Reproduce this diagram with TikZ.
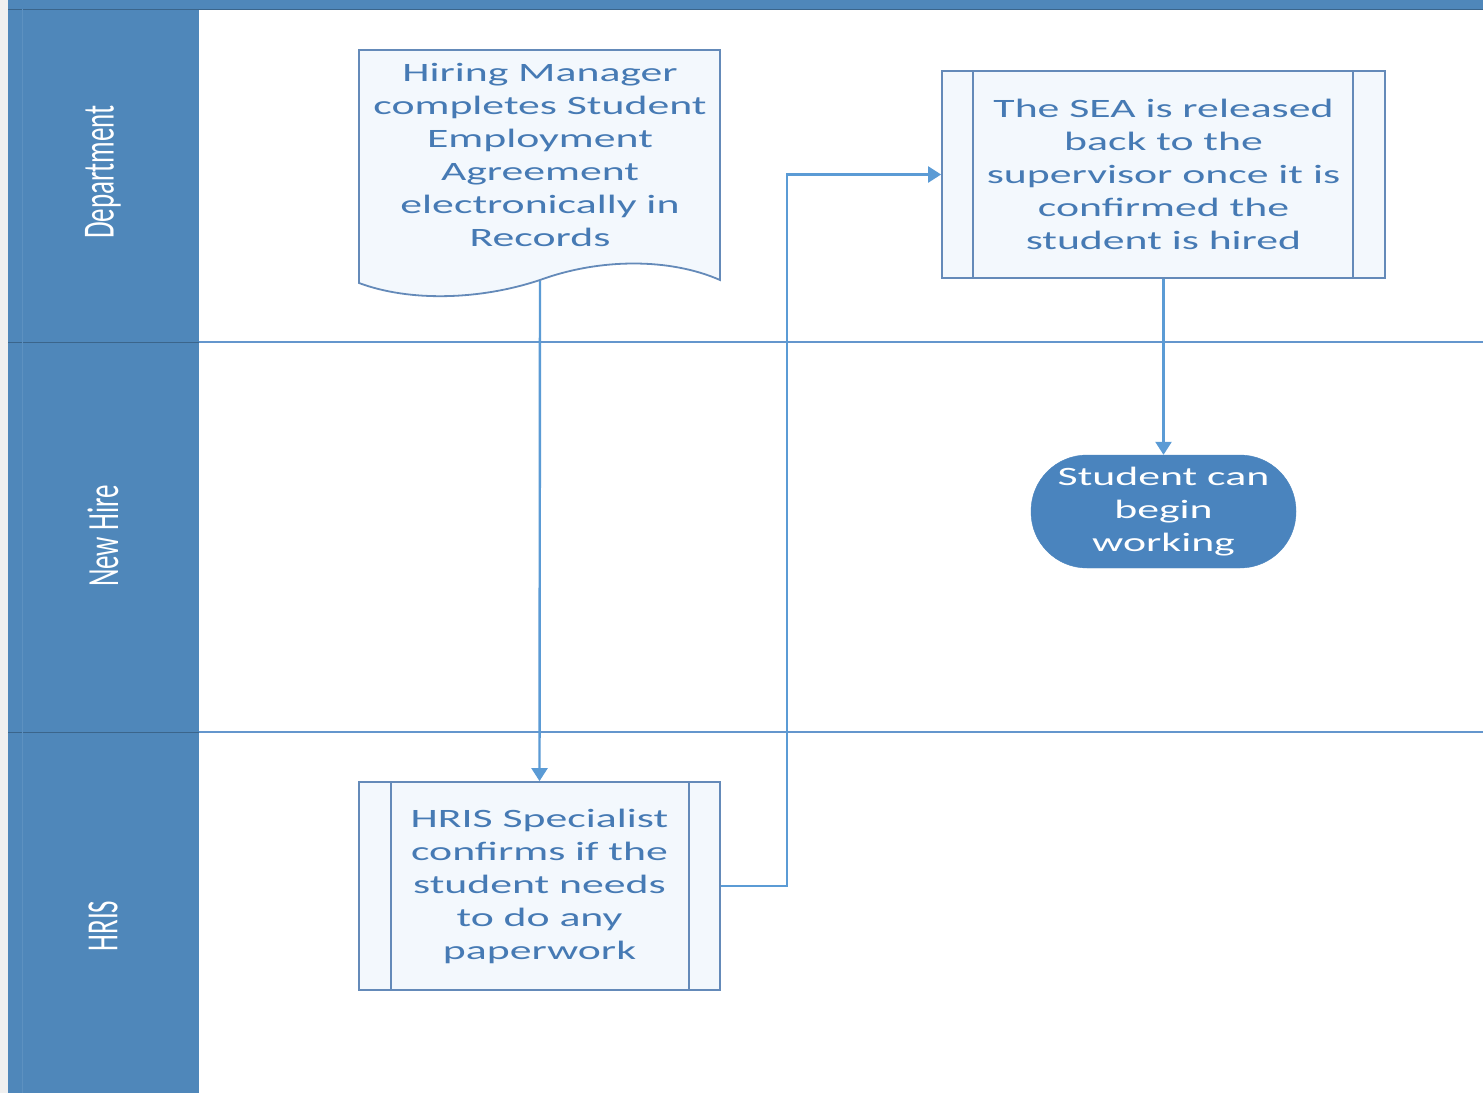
\documentclass[tikz,border=0pt]{standalone}
\usepackage{fontspec}
\setmainfont{Carlito}
\newfontfamily\widefont[FakeStretch=1.65]{Carlito}
\usetikzlibrary{arrows.meta}
\definecolor{lanebar}{RGB}{79,135,186}
\definecolor{laneline}{RGB}{100,150,205}
\definecolor{boxline}{RGB}{100,138,185}
\definecolor{boxfill}{RGB}{243,248,253}
\definecolor{boxtext}{RGB}{70,122,180}
\definecolor{connc}{RGB}{91,155,213}
\definecolor{termfill}{RGB}{74,132,190}
\definecolor{strip}{RGB}{240,240,240}
\tikzset{
  bodytext/.style={align=center, text=boxtext, inner sep=0pt,
    font=\widefont\fontsize{26.5}{33}\selectfont},
  procbox/.style={bodytext, draw=boxline, line width=1.8pt, fill=boxfill},
  termbox/.style={align=center, text=white, inner sep=0pt, fill=termfill,
    draw=termfill, rounded corners=56pt,
    font=\widefont\fontsize{26.5}{33}\selectfont},
  innerline/.style={draw=boxline, line width=1.6pt},
  lanelabel/.style={text=white, inner sep=0pt, rotate=90,
    font=\fontsize{27}{30}\selectfont},
  lanesep/.style={draw=laneline, line width=1.8pt},
  conn/.style={draw=connc, line width=2.4pt, -{Triangle[width=16pt,length=13pt]}},
}
\begin{document}
\begin{tikzpicture}[x=1pt,y=-1pt]
\useasboundingbox (0,0) rectangle (1483,1093);
\fill[white] (0,0) rectangle (1483,1093);
\fill[strip] (0,0) rectangle (8,1093);
% pool header column and top bar
\fill[lanebar] (8,0) rectangle (199,1093);
\fill[lanebar] (8,0) rectangle (1483,9);
\draw[lanebar!75!black, line width=1pt] (8,9) -- (1483,9);
\draw[lanebar!75!black, line width=1pt] (8,342) -- (199,342);
\draw[lanebar!75!black, line width=1pt] (8,732) -- (199,732);
\draw[lanebar!92!white, line width=0.8pt] (22,9) -- (22,1093);
% lane separators
\draw[lanesep] (199,342) -- (1483,342);
\draw[lanesep] (199,732) -- (1483,732);
% lane labels
\node[lanelabel] (lDept) at (103,172) {\scalebox{1}[1.65]{Department}};
\node[lanelabel] (lNew) at (103,536) {\scalebox{1}[1.65]{New Hire}};
\node[lanelabel] (lHris) at (103,926) {\scalebox{1}[1.65]{HRIS}};
% document shape
\draw[draw=boxline, line width=1.8pt, fill=boxfill]
  (359,50) -- (720,50) -- (720,280)
  .. controls (670,258) and (600,258) .. (540,280)
  .. controls (480,300) and (410,302) .. (359,283) -- cycle;
\node[bodytext] (doc) at (540,155)
  {Hiring Manager\\completes Student\\Employment\\Agreement\\electronically in\\Records};
\coordinate (docb) at (540,281);
% SEA released box
\node[procbox, minimum width=443pt, minimum height=207pt] (sea) at (1163.5,174.5)
  {The SEA is released\\back to the\\supervisor once it is\\confirmed the\\student is hired};
\draw[innerline] ([xshift=32pt]sea.north west) -- ([xshift=32pt]sea.south west);
\draw[innerline] ([xshift=-33pt]sea.north east) -- ([xshift=-33pt]sea.south east);
% HRIS box
\node[procbox, minimum width=361pt, minimum height=208pt] (hris) at (539.5,886)
  {HRIS Specialist\\confirms if the\\student needs\\to do any\\paperwork};
\draw[innerline] ([xshift=33pt]hris.north west) -- ([xshift=33pt]hris.south west);
\draw[innerline] ([xshift=-32pt]hris.north east) -- ([xshift=-32pt]hris.south east);
% terminal
\node[termbox, minimum width=265pt, minimum height=113pt] (term) at (1163.5,511.5)
  {Student can\\begin\\working};
% connectors
\draw[conn] (docb) -- (hris.north);
\draw[conn] (hris.east) -- ++(66,0) |- (sea.west);
\draw[conn] (sea.south) -- (term.north);
\end{tikzpicture}
\end{document}
